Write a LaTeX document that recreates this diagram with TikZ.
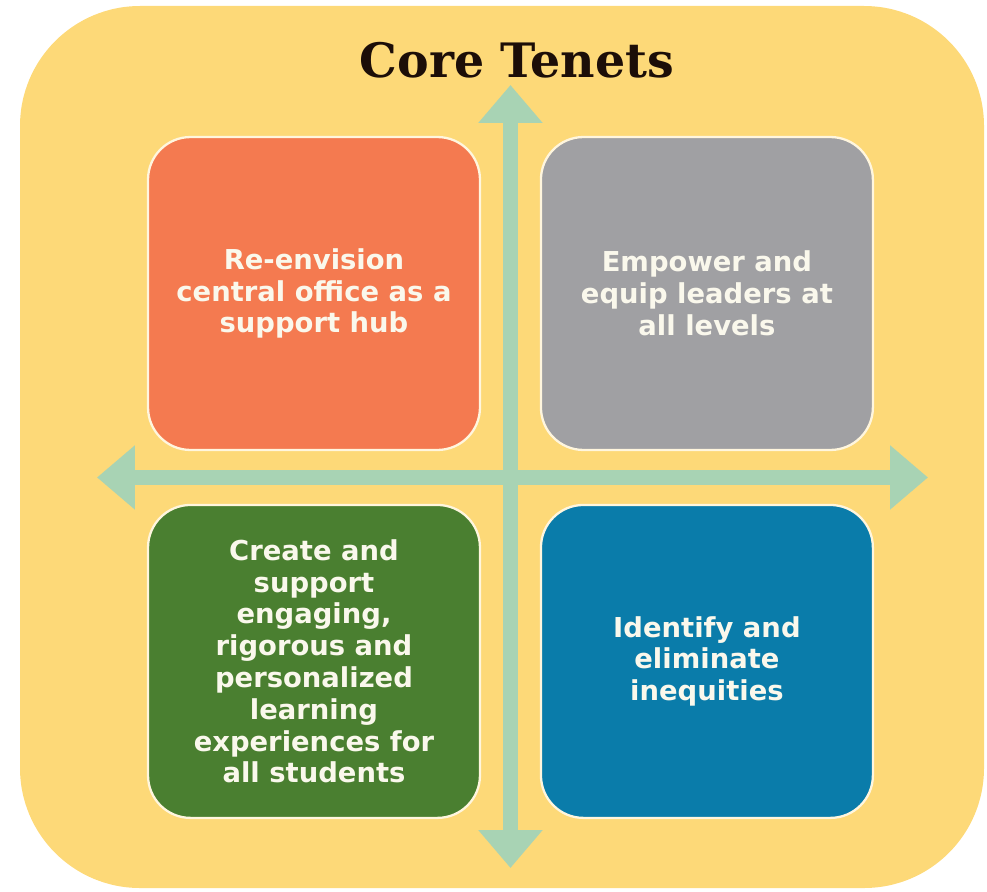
\documentclass[tikz,border=0pt]{standalone}
\usepackage{fontspec}
\setsansfont{DejaVu Sans}
\newfontfamily\cttitlefont{DejaVu Serif}
\usepackage{tikz}
\usetikzlibrary{arrows.meta, calc, positioning}
\definecolor{ctyellow}{RGB}{253,217,120}
\definecolor{ctorange}{RGB}{244,122,80}
\definecolor{ctgray}{RGB}{160,160,163}
\definecolor{ctgreen}{RGB}{74,127,48}
\definecolor{ctblue}{RGB}{10,124,170}
\definecolor{ctarrowc}{RGB}{168,211,180}
\definecolor{ctcream}{RGB}{255,246,222}
\definecolor{cttext}{RGB}{250,248,236}
\definecolor{ctink}{RGB}{28,14,8}
\tikzset{
  ctbg/.style={fill=ctyellow, rounded corners=2.4cm},
  ctbox/.style={rectangle, draw=ctcream, line width=1.3pt, rounded corners=0.85cm,
    minimum width=6.64cm, minimum height=6.26cm, inner sep=0pt, outer sep=0pt,
    text=cttext, align=center,
    font=\sffamily\bfseries\fontsize{15.6}{18.1}\selectfont},
  cttitle/.style={text=ctink, font=\cttitlefont\bfseries\fontsize{27}{30}\selectfont},
  ctarrow/.style={draw=ctarrowc, line width=0.3cm,
    {Triangle[width=1.24cm, length=0.76cm]}-{Triangle[width=1.24cm, length=0.76cm]}},
}

\begin{document}
\begin{tikzpicture}[x=0.02cm, y=-0.02cm]
  \useasboundingbox (0,0) rectangle (987,892);

  % Yellow panel behind everything.
  \path[ctbg] (20,6) rectangle (984,888);

  % Title.
  \node[cttitle] (title) at (517,60) {Core Tenets};

  % The four tenets.
  \node[ctbox, fill=ctorange] (reenvision) at (314,293.5)
    {Re-envision\\central office as a\\support hub};
  \node[ctbox, fill=ctgray, right=1.22cm of reenvision] (empower)
    {Empower and\\equip leaders at\\all levels};
  \node[ctbox, fill=ctgreen, below=1.1cm of reenvision] (create)
    {Create and\\support\\engaging,\\rigorous and\\personalized\\learning\\experiences for\\all students};
  \node[ctbox, fill=ctblue, below=1.1cm of empower] (identify)
    {Identify and\\eliminate\\inequities};

  % Crossing arrows through the gaps.
  \coordinate (hub) at ($(reenvision.south east)!0.5!(identify.north west)$);
  \coordinate (tipN) at (hub |- 0,85);
  \coordinate (tipS) at (hub |- 0,868);
  \coordinate (tipW) at (hub -| 97,0);
  \coordinate (tipE) at (hub -| 928,0);
  \draw[ctarrow] (tipN) -- (tipS);
  \draw[ctarrow] (tipW) -- (tipE);
\end{tikzpicture}
\end{document}
